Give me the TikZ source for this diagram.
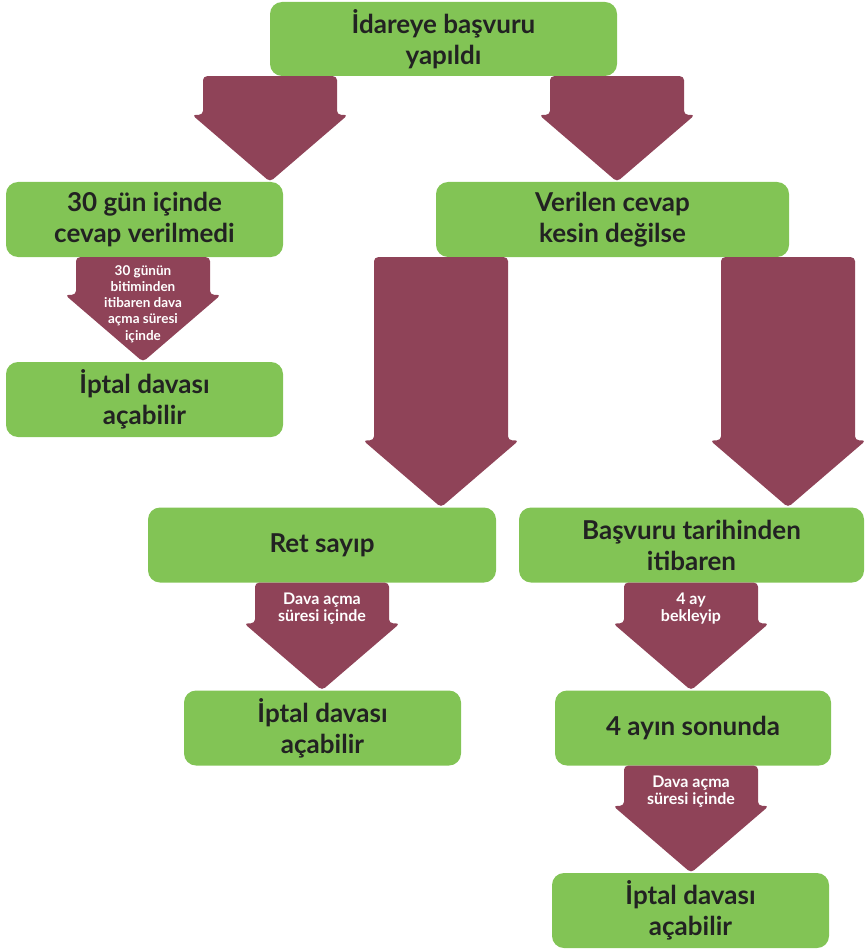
\documentclass[tikz,border=0pt]{standalone}
\usepackage{fontspec}
\setmainfont{Lato}
\usetikzlibrary{calc}

\definecolor{boxgreen}{RGB}{130,196,85}
\definecolor{flowred}{RGB}{143,67,88}
\definecolor{ink}{RGB}{34,34,34}

% broad down arrow: x of the shaft, node above, node below
\newcommand{\fatarrow}[3]{%
  \fill[flowred, rounded corners=4pt] let \p1=(#1,0 |- #2.south), \p2=(#1,0 |- #3.north) in
    (\x1-67pt,\y1) -- (\x1+67pt,\y1) -- (\x1+67pt,\y2+67pt) -- (\x1+78pt,\y2+67pt)
    -- (\x1,\y2) -- (\x1-78pt,\y2+67pt) -- (\x1-67pt,\y2+67pt) -- cycle;}

\begin{document}
\begin{tikzpicture}[x=1pt, y=-1pt,
  stage/.style={rectangle, rounded corners=12pt, fill=boxgreen, text=ink, align=center,
    font=\bfseries\fontsize{26}{31}\selectfont, minimum height=75pt, inner sep=0pt},
  note/.style={text=white, align=center, inner sep=0pt,
    font=\bfseries\fontsize{16}{17}\selectfont},
  smallnote/.style={note, font=\bfseries\fontsize{13.5}{16.2}\selectfont}]
	\useasboundingbox (0,0) rectangle (864,952);

	\node at (443.5,39) [stage, minimum width=347pt, minimum height=74pt] (basvuru) {İdareye başvuru\\yapıldı};
	\node at (144.5,219.5) [stage, minimum width=277pt] (sessiz) {30 gün içinde\\cevap verilmedi};
	\node at (612.5,219.5) [stage, minimum width=353pt] (cevap) {Verilen cevap\\kesin değilse};
	\node at (144.5,399.5) [stage, minimum width=277pt] (iptal1) {İptal davası\\açabilir};
	\node at (322,545) [stage, minimum width=348pt] (ret) {Ret sayıp};
	\node at (691.5,545) [stage, minimum width=345pt] (tarih) {Başvuru tarihinden\\itibaren};
	\node at (322.5,728) [stage, minimum width=277pt] (iptal2) {İptal davası\\açabilir};
	\node at (693,728) [stage, minimum width=276pt] (aysonu) {4 ayın sonunda};
	\node at (690.5,910.5) [stage, minimum width=277pt] (iptal3) {İptal davası\\açabilir};

	\fatarrow{270}{basvuru}{sessiz}
	\fatarrow{617}{basvuru}{cevap}
	\fatarrow{143}{sessiz}{iptal1}
	\fatarrow{441}{cevap}{ret}
	\fatarrow{788}{cevap}{tarih}
	\fatarrow{322}{ret}{iptal2}
	\fatarrow{691}{tarih}{aysonu}
	\fatarrow{691}{aysonu}{iptal3}

	\node at (143,304) [smallnote] (sure1) {30 günün\\bitiminden\\itibaren dava\\açma süresi\\içinde};
	\node at (322,609) [note] (sure2) {Dava açma\\süresi içinde};
	\node at (691,609) [note] (bekle) {4 ay\\bekleyip};
	\node at (691,792) [note] (sure3) {Dava açma\\süresi içinde};

\end{tikzpicture}
\end{document}
